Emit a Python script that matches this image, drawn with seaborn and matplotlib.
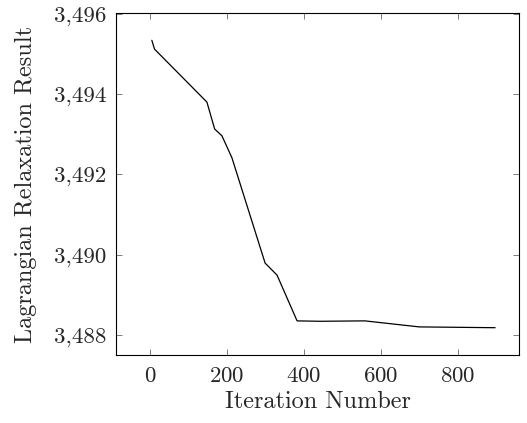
import matplotlib
matplotlib.use("Agg")
import matplotlib.pyplot as plt
import matplotlib.ticker as mticker
import seaborn as sns
import pandas as pd

# 迭代次数与拉格朗日松弛结果
iterations = [5, 12, 148, 168, 187, 213, 299, 330, 382, 442, 558, 699, 896]
lr_values = [3495.34, 3495.12, 3493.80, 3493.13, 3492.96, 3492.41, 3489.79,
             3489.49, 3488.35, 3488.34, 3488.35, 3488.20, 3488.18]

x_ticks = [0, 200, 400, 600, 800]
y_ticks = [3488, 3490, 3492, 3494, 3496]

sns.set_style("ticks")
plt.rcParams['font.family'] = ['serif']
plt.rcParams['font.serif'] = ['cmr10', 'DejaVu Serif']
plt.rcParams['axes.formatter.use_mathtext'] = True
plt.rcParams['axes.unicode_minus'] = False

df = pd.DataFrame({"Iteration Number": iterations,
                   "Lagrangian Relaxation Result": lr_values})

fig = plt.figure(figsize=(5.27, 4.23), dpi=100)
ax = fig.add_axes([116 / 527, 1 - 355 / 423, (519 - 116) / 527, (355 - 13) / 423])

sns.lineplot(data=df, x="Iteration Number", y="Lagrangian Relaxation Result",
             ax=ax, color="black", linewidth=0.9)

ax.set_xlim(-88, 958)
ax.set_ylim(3487.5, 3496.02)
ax.set_xticks(x_ticks)
ax.set_yticks(y_ticks)
ax.yaxis.set_major_formatter(mticker.FuncFormatter(lambda v, p: f"{v:,.0f}"))

for s in ax.spines.values():
    s.set_visible(True)
    s.set_linewidth(0.8)
    s.set_color("black")

ax.tick_params(direction="in", length=4, width=0.6, color="#666666",
               top=True, right=True, labelsize=16.5)
ax.tick_params(axis="x", pad=8)
ax.tick_params(axis="y", pad=7)
ax.set_xlabel("Iteration Number", fontsize=17.5, labelpad=4)
ax.set_ylabel("Lagrangian Relaxation Result", fontsize=17.5, labelpad=12)

plt.savefig("out.png", dpi=100)
plt.close()
